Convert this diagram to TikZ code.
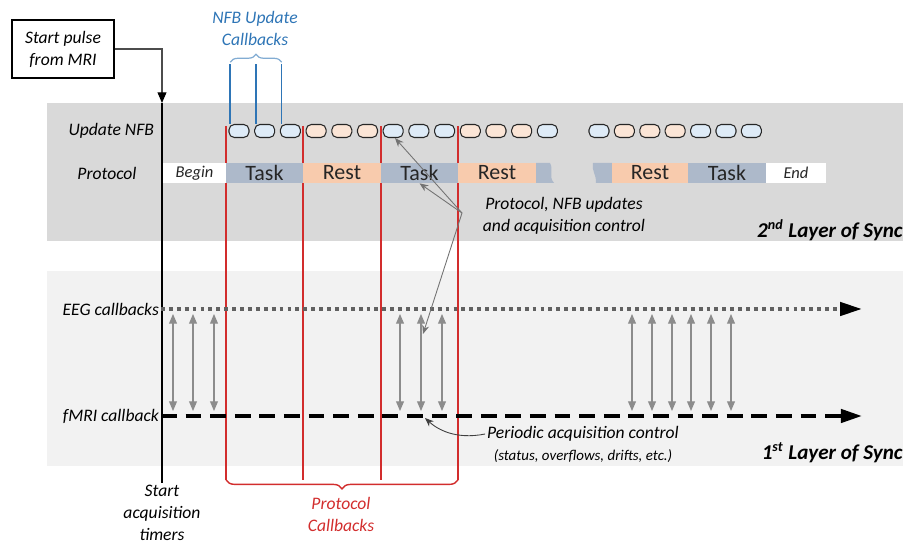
\documentclass[tikz,border=0pt]{standalone}
\usepackage{fontspec}
\setmainfont{Carlito}
\usetikzlibrary{arrows.meta,positioning,decorations.pathreplacing}
\definecolor{syncdark}{RGB}{217,217,217}
\definecolor{synclight}{RGB}{242,242,242}
\definecolor{taskfill}{RGB}{173,185,202}
\definecolor{restfill}{RGB}{248,203,173}
\definecolor{nfbb}{RGB}{222,235,247}
\definecolor{nfbo}{RGB}{251,229,214}
\definecolor{nfbline}{RGB}{46,117,182}
\definecolor{protored}{RGB}{210,45,45}
\definecolor{syncgray}{RGB}{140,140,140}

\begin{document}
\begin{tikzpicture}[
  % one unit = one pixel of the original drawing
  x=0.02cm, y=-0.02cm,
  every node/.style={font=\fontsize{10}{12.5}\selectfont},
  rowlabel/.style={
    font=\fontsize{10}{12.5}\selectfont\itshape,
    inner sep=1pt
  },
  seg/.style={
    minimum height=0.4cm,
    inner sep=0pt,
    text=black!85,
    font=\fontsize{12.5}{13}\selectfont
  },
  edgeseg/.style={seg, fill=white, font=\fontsize{9.4}{11}\selectfont\itshape},
  upd/.style={
    draw=black!85,
    line width=0.6pt,
    rounded corners=3pt,
    minimum width=0.4cm,
    minimum height=0.26cm,
    inner sep=0pt
  },
  cbline/.style={protored, line width=0.8pt},
  nfbcb/.style={nfbline, line width=0.9pt},
  eegcb/.style={
    black!62,
    line width=2.3pt,
    dash pattern=on 2.2pt off 2.3pt,
    -{Triangle[black, length=12.5pt, width=7.5pt]}
  },
  fmricb/.style={
    black,
    line width=2.2pt,
    dash pattern=on 9pt off 5pt,
    -{Triangle[black, length=12pt, width=7.5pt]}
  },
  syncarr/.style={
    {Triangle[length=5.5pt, width=4.5pt]}-{Triangle[length=5.5pt, width=4.5pt]},
    syncgray,
    line width=0.6pt
  },
  note/.style={-{Stealth[length=5pt, width=4pt]}, black!55, line width=0.5pt},
  synclayer/.style={
    font=\fontsize{12}{14}\selectfont\bfseries\itshape,
    anchor=east,
    inner sep=0pt
  }
]
\useasboundingbox (0,0) rectangle (912,546);

% Layers
\fill[syncdark] (47,103) rectangle (903,241);
\fill[synclight] (47,271) rectangle (903,466);

% Protocol callbacks
\foreach \x [count=\i] in {226,303,381,458} {
  \coordinate (rt\i) at (\x,126);
  \coordinate (rb\i) at (\x,480);
  \draw[cbline] (rt\i) -- (rb\i);
}
\draw[cbline, decorate, decoration={brace, amplitude=5pt}] (rb4) -- (rb1);
\node[rowlabel, text=protored, align=center] (protcb) at (341,514) {Protocol\\Callbacks};

% Start pulse
\node[draw, line width=0.6pt, rowlabel, align=center, minimum width=2.04cm, minimum height=1.16cm] (pulse) at (63,49) {Start pulse\\from MRI};
\coordinate (t0) at (162,103);
\node[rowlabel, align=center] (timers) at (162,513) {Start\\acquisition\\timers};
\draw[black!70, line width=0.6pt, -{Triangle[black, length=6pt, width=5pt]}] (pulse.east) -| (t0);
\draw[black, line width=1.1pt] (t0) -- (timers.north);

% Row labels
\node[rowlabel, anchor=east] (updlbl) at (156,131) {Update NFB};
\node[rowlabel] (protlbl) at (107,173) {Protocol};
\node[rowlabel, anchor=east] (eeg) at (161,309) {EEG callbacks};
\node[rowlabel, anchor=east] (fmri) at (161,416) {fMRI callback};

% Protocol
\node[edgeseg, minimum width=1.26cm] (begin) at (194.5,173) {Begin};
\node[seg, fill=taskfill, minimum width=1.54cm] (task1) at (264.5,173) {Task};
\node[seg, fill=restfill, minimum width=1.56cm] (rest1) at (342,173) {Rest};
\node[seg, fill=taskfill, minimum width=1.54cm] (task2) at (419.5,173) {Task};
\node[seg, fill=restfill, minimum width=1.56cm] (rest2) at (497,173) {Rest};
\fill[taskfill] (536,163) -- (550,163) .. controls (554,170) and (548,176) .. (554,183) -- (536,183) -- cycle;
\fill[taskfill] (593,163) -- (612,163) -- (612,183) -- (596,183) .. controls (597,176) and (591,170) .. (593,163);
\node[seg, fill=restfill, minimum width=1.52cm] (rest3) at (650,173) {Rest};
\node[seg, fill=taskfill, minimum width=1.56cm] (task3) at (727,173) {Task};
\node[edgeseg, minimum width=1.2cm] (protend) at (796,173) {End};

% Update NFB
\foreach \c [count=\i from 0] in {b,b,b,o,o,o,b,b,b,o,o,o,b}
  \node[upd, fill=nfb\c] (u\i) at ({239+25.7*\i},131) {};
\foreach \c [count=\i from 0] in {b,o,o,o,b,b,b}
  \node[upd, fill=nfb\c] (v\i) at ({599+25.4*\i},131) {};

% NFB update callbacks
\foreach \i in {0,1,2}
  \draw[nfbcb] ([xshift=1pt]u\i.north west) -- ++(0,-60) coordinate (n\i);
\draw[nfbline!60, line width=0.7pt, decorate, decoration={brace, amplitude=4.5pt}] ([yshift=1pt]n0) -- ([yshift=1pt]n2);
\node[rowlabel, text=nfbline, align=center] (nfbtxt) at (255,28) {NFB Update\\Callbacks};

% Acquisition callbacks
\coordinate (eegend) at (862,309);
\coordinate (fmriend) at (862,416);
\draw[eegcb] (eeg.east) -- (eegend);
\draw[fmricb] (fmri.east) -- (fmriend);
\foreach \x [count=\i] in {173,193,214,400,421,442,632,652,672,691,711,731} {
  \coordinate (s\i) at (\x,314);
  \coordinate (r\i) at (\x,411);
  \draw[syncarr] (s\i) -- (r\i);
}

% Notes
\node[rowlabel, align=center] (protnote) at (564,216) {Protocol, NFB updates\\and acquisition control};
\coordinate (hub) at (462,213);
\coordinate (syncmid) at (423,334);
\draw[note] (hub) -- ([xshift=1pt]u6.south);
\draw[note] (hub) -- (task2.south);
\draw[note] (hub) -- (syncmid);

\node[rowlabel] (periodic) at (583,434) {Periodic acquisition control};
\node[rowlabel, font=\fontsize{8.5}{10}\selectfont\itshape, below=2pt of periodic] (periodicsub) {(status, overflows, drifts, etc.)};
\coordinate (fmrihit) at (425,418);
\draw[note, black!75] (periodic.west) .. controls (455,440) and (437,429) .. (fmrihit);

% Layers of sync
\node[synclayer] (layer2) at (903,230) {2\textsuperscript{nd} Layer of Sync};
\node[synclayer] (layer1) at (903,453) {1\textsuperscript{st} Layer of Sync};

\end{tikzpicture}
\end{document}
